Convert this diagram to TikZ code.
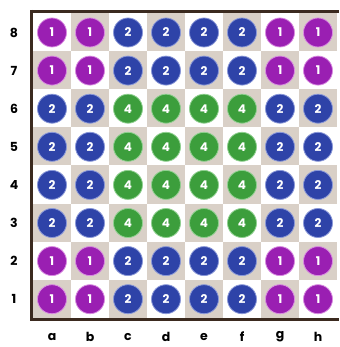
\documentclass[tikz,border=0pt]{standalone}
\usepackage{fontspec}
\setmainfont{Poppins}[BoldFont={* Bold}]
\definecolor{lightsq}{HTML}{FFFFFF}
\definecolor{darksq}{HTML}{D9D0C7}
\definecolor{frame}{HTML}{3B2A1F}
\definecolor{cone}{HTML}{9A1FB2}
\definecolor{ctwo}{HTML}{2E43A8}
\definecolor{cfour}{HTML}{3C9E3C}
\definecolor{rone}{HTML}{D88BE0}
\definecolor{rtwo}{HTML}{8A98D8}
\definecolor{rfour}{HTML}{90D090}
\tikzset{
  coin/.style={circle, minimum size=29pt, inner sep=0pt, line width=0.8pt, text=white, font=\bfseries\fontsize{12}{12}\selectfont},
  cone/.style={coin, fill=cone, draw=rone},
  ctwo/.style={coin, fill=ctwo, draw=rtwo},
  cfour/.style={coin, fill=cfour, draw=rfour},
  coordlabel/.style={font=\bfseries\fontsize{12.5}{12.5}\selectfont, text=black}
}
\begin{document}
\begin{tikzpicture}[x=1pt,y=-1pt]
\useasboundingbox (0,0) rectangle (339,347);
\fill[white] (0,0) rectangle (339,347);
% squares
\foreach \c in {0,...,7}{
  \foreach \r in {0,...,7}{
    \pgfmathtruncatemacro{\p}{mod(\c+\r,2)}
    \ifnum\p=0
      \fill[lightsq] (33+38*\c,13+38.1*\r) rectangle ++(38,38.1);
    \else
      \fill[darksq] (33+38*\c,13+38.1*\r) rectangle ++(38,38.1);
    \fi
  }
}
\draw[frame, line width=3pt] (31.5,11.5) -- (339,11.5);
\draw[frame, line width=3pt] (31.5,10) -- (31.5,319.3) -- (339,319.3);
% coins
\foreach \c in {0,...,7}{
  \foreach \r in {0,...,7}{
    \pgfmathtruncatemacro{\edgec}{(\c<2)||(\c>5)}
    \pgfmathtruncatemacro{\edger}{(\r<2)||(\r>5)}
    \pgfmathtruncatemacro{\kind}{\edgec+\edger}
    \ifnum\kind=2
      \node[cone] (p\c\r) at (52+38*\c,32.5+38.1*\r) {1};
    \else\ifnum\kind=1
      \node[ctwo] (p\c\r) at (52+38*\c,32.5+38.1*\r) {2};
    \else
      \node[cfour] (p\c\r) at (52+38*\c,32.5+38.1*\r) {4};
    \fi\fi
  }
}
% rank labels
\foreach \n [count=\i from 0] in {8,7,6,5,4,3,2,1}{
  \node[coordlabel] (rk\n) at (14,32.5+38.1*\i) {\n};
}
% file labels
\foreach \f [count=\i from 0] in {a,b,c,d,e,f,g,h}{
  \node[coordlabel] (fl\f) at (52+38*\i,337) {\f};
}
\end{tikzpicture}
\end{document}
